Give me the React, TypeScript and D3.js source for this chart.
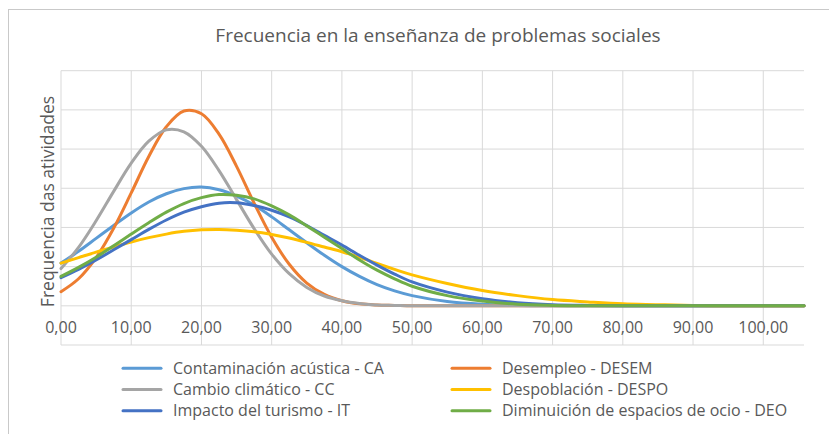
import * as d3 from 'd3'

const WIDTH = 829
const HEIGHT = 434
const PLOT = { left: 61, right: 804, top: 70.7, bottom: 345 }

const TITLE = 'Frecuencia en la enseñanza de problemas sociales'
const Y_TITLE = 'Frequencia das atividades'

// x positions of the sampled points
const X_VALUES = [
  0, 2.5, 5, 7.5, 10, 12.5, 15, 17.5, 20, 22.5, 25, 27.5, 30, 32.5, 35, 37.5, 40, 42.5, 45, 47.5, 50,
  55, 60, 65, 70, 75, 80, 85, 90, 95, 100, 105, 105.8,
]

const CA = [
  0.0109, 0.0139, 0.0172, 0.0205, 0.0237, 0.0265, 0.0286, 0.0299, 0.0303, 0.0296, 0.028, 0.0257, 0.0227,
  0.0194, 0.0161, 0.0129, 0.01, 0.0075, 0.0054, 0.0038, 0.0026,
  0.0011, 0.0004, 0.0001, 0, 0, 0, 0, 0, 0, 0, 0, 0,
]
const DESEM = [
  0.0036, 0.0069, 0.0123, 0.0198, 0.0288, 0.0381, 0.0457, 0.0497, 0.049, 0.0438, 0.0356, 0.0262, 0.0175,
  0.0106, 0.0058, 0.0029, 0.0013, 0.0005, 0.0002, 0.0001, 0,
  0, 0, 0, 0, 0, 0, 0, 0, 0, 0, 0, 0,
]
const CC = [
  0.0095, 0.0149, 0.0217, 0.0292, 0.0364, 0.042, 0.0449, 0.0444, 0.0407, 0.0345, 0.0271, 0.0197, 0.0132,
  0.0082, 0.0047, 0.0025, 0.0013, 0.0006, 0.0002, 0.0001, 0,
  0, 0, 0, 0, 0, 0, 0, 0, 0, 0, 0, 0,
]
const DESPO = [
  0.0109, 0.0123, 0.0137, 0.015, 0.0163, 0.0174, 0.0183, 0.019, 0.0194, 0.0195, 0.0193, 0.0189, 0.0182,
  0.0173, 0.0162, 0.015, 0.0138, 0.0124, 0.0108, 0.0093, 0.0079,
  0.0057, 0.0039, 0.0026, 0.0016, 0.001, 0.0005, 0.0003, 0.0001, 0, 0, 0, 0,
]
const IT = [
  0.0072, 0.0093, 0.0117, 0.0143, 0.0169, 0.0195, 0.0219, 0.0239, 0.0253, 0.0262, 0.0263, 0.0256, 0.0244,
  0.0227, 0.0205, 0.018, 0.0155, 0.0129, 0.0104, 0.0081, 0.0061,
  0.0035, 0.0018, 0.0008, 0.0003, 0.0001, 0, 0, 0, 0, 0, 0, 0,
]
const DEO = [
  0.0075, 0.0098, 0.0124, 0.0153, 0.0183, 0.0212, 0.0239, 0.0261, 0.0276, 0.0284, 0.0282, 0.0273, 0.0255,
  0.0232, 0.0204, 0.0175, 0.0146, 0.0117, 0.0091, 0.0069, 0.005,
  0.0026, 0.0012, 0.0004, 0.0001, 0, 0, 0, 0, 0, 0, 0, 0,
]

const SERIES = [
  { name: 'Contaminación acústica - CA', values: CA, color: '#5B9BD5' },
  { name: 'Desempleo - DESEM', values: DESEM, color: '#ED7D31' },
  { name: 'Cambio climático - CC', values: CC, color: '#A5A5A5' },
  { name: 'Despoblación - DESPO', values: DESPO, color: '#FFC000' },
  { name: 'Impacto del turismo - IT', values: IT, color: '#4472C4' },
  { name: 'Diminuición de espacios de ocio - DEO', values: DEO, color: '#70AD47' },
]

const X_TICKS = [0, 10, 20, 30, 40, 50, 60, 70, 80, 90, 100]
const Y_TICKS = [-0.01, 0, 0.01, 0.02, 0.03, 0.04, 0.05, 0.06]

const FONT = '"Open Sans", Lato, sans-serif'
const TEXT_COLOR = '#595959'
const GRID_COLOR = '#d9d9d9'

const fmt = (v: number) => d3.format('.2f')(v).replace('.', ',')

export default function App() {
  const x = d3.scaleLinear().domain([0, 105.8]).range([PLOT.left, PLOT.right])
  const y = d3.scaleLinear().domain([-0.01, 0.06]).range([PLOT.bottom, PLOT.top])

  const line = d3.line<[number, number]>()
    .x(d => x(d[0]))
    .y(d => y(d[1]))
    .curve(d3.curveCatmullRom.alpha(0.5))

  return (
    <svg
      width={WIDTH}
      height={HEIGHT}
      style={{ position: 'absolute', left: 0, top: 0, background: '#fff' }}
      fontFamily={FONT}
    >
      {/* chart frame */}
      <rect x={8.5} y={9.5} width={1000} height={1000} fill="none" stroke="#c9c9c9" />

      <text x={438} y={42} textAnchor="middle" fontSize={19} fill={TEXT_COLOR}>{TITLE}</text>

      {/* gridlines */}
      {Y_TICKS.map(t => (
        <line key={'h' + t} x1={PLOT.left} x2={PLOT.right} y1={y(t)} y2={y(t)} stroke={GRID_COLOR} />
      ))}
      {X_TICKS.map(t => (
        <line key={'v' + t} x1={x(t)} x2={x(t)} y1={PLOT.top} y2={PLOT.bottom} stroke={GRID_COLOR} />
      ))}

      {/* x tick labels */}
      {X_TICKS.map(t => (
        <text key={'l' + t} x={x(t)} y={333} textAnchor="middle" fontSize={16} fill={TEXT_COLOR}>
          {fmt(t)}
        </text>
      ))}

      <text
        transform={`translate(53.5, 201.5) rotate(-90)`}
        textAnchor="middle"
        fontSize={17.5}
        fill={TEXT_COLOR}
      >
        {Y_TITLE}
      </text>

      {/* series */}
      {SERIES.map(s => (
        <path
          key={s.name}
          d={line(X_VALUES.map((xv, i) => [xv, s.values[i]] as [number, number])) || ''}
          fill="none"
          stroke={s.color}
          strokeWidth={3}
          strokeLinecap="round"
        />
      ))}

      {/* legend */}
      {SERIES.map((s, i) => {
        const col = i % 2
        const row = Math.floor(i / 2)
        const lx = col === 0 ? 123 : 452
        const ly = 368.3 + row * 21.2
        return (
          <g key={'lg' + s.name}>
            <line x1={lx} x2={lx + 38} y1={ly} y2={ly} stroke={s.color} strokeWidth={3} strokeLinecap="round" />
            <text x={lx + 50} y={ly + 5.5} fontSize={16} fill={TEXT_COLOR}>{s.name}</text>
          </g>
        )
      })}
    </svg>
  )
}
